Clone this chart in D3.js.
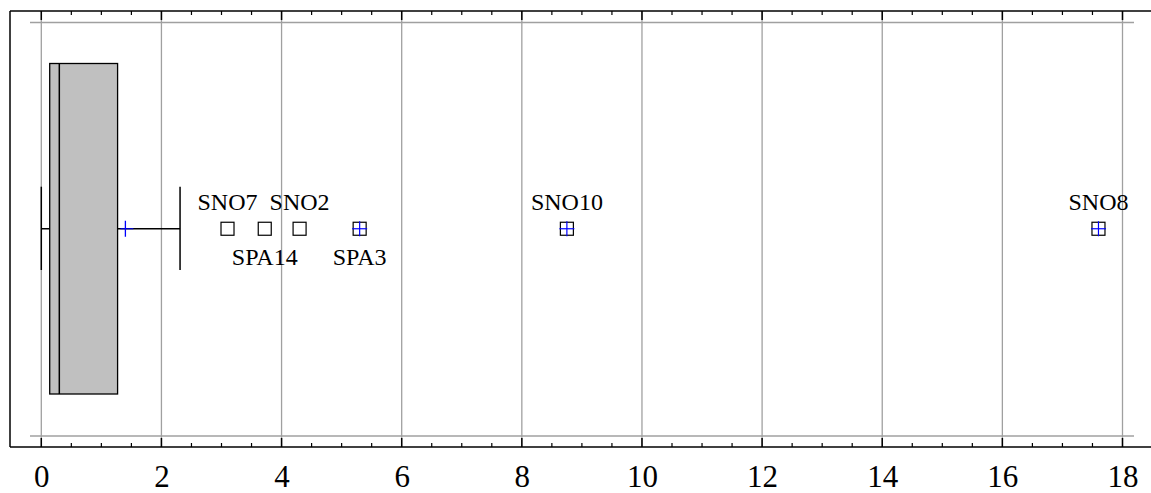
<!DOCTYPE html>
<html>
<head>
<meta charset="utf-8">
<script src="https://cdn.jsdelivr.net/npm/d3@7"></script>
<style>
  body { margin: 0; background: #fff; }
</style>
</head>
<body>
<svg id="chart" width="1151" height="493"></svg>
<script>
// box statistics
const boxStats = { min: 0, q1: 0.14, median: 0.30, q3: 1.27, max: 2.31, mean: 1.40 };

// outliers
const outlierNames = ["SNO7", "SPA14", "SNO2", "SPA3", "SNO10", "SNO8"];
const outlierValues = [3.10, 3.72, 4.30, 5.30, 8.75, 17.6];
const outlierExtreme = [false, false, false, true, true, true];
const labelSide = ["above", "below", "above", "below", "above", "above"];

const xTicks = [0, 2, 4, 6, 8, 10, 12, 14, 16, 18];

const serif = "Liberation Serif";
const svg = d3.select("#chart");
const frame = { left: 10, top: 11, right: 1151, bottom: 447 };

const xScale = d3.scaleLinear().domain([0, 18]).range([41.3, 1122.5]);
const yScale = d3.scaleLinear().domain([0, 1]).range([394, 63.5]);
const yMid = yScale(0.5);

// 网格线
svg.append("g")
    .selectAll("line")
    .data(xTicks)
    .enter().append("line")
    .attr("x1", d => xScale(d)).attr("x2", d => xScale(d))
    .attr("y1", frame.top).attr("y2", frame.bottom)
    .attr("stroke", "#a0a0a0").attr("stroke-width", 1.3);

// 上下的水平灰线
[22.5, 436].forEach(y => {
    svg.append("line")
        .attr("x1", 30).attr("x2", 1134)
        .attr("y1", y).attr("y2", y)
        .attr("stroke", "#a0a0a0").attr("stroke-width", 1.3);
});

// x轴（下）
const minorTicks = d3.range(0, 18.01, 0.5).filter(v => v % 2 !== 0);
const bottomAxis = svg.append("g")
    .attr("transform", `translate(0,${frame.bottom})`)
    .call(d3.axisBottom(xScale).tickValues(xTicks).tickSize(0).tickFormat(d3.format("d")));
bottomAxis.attr("font-family", serif).attr("font-size", 31);
bottomAxis.select(".domain").remove();
bottomAxis.selectAll("text")
    .attr("y", 40)
    .attr("dy", null)
    .attr("fill", "#000")
    .attr("font-family", serif)
    .attr("font-size", 31);

function drawTicks(y, dir) {
    const g = svg.append("g");
    g.selectAll(".major").data(xTicks).enter().append("line")
        .attr("x1", d => xScale(d)).attr("x2", d => xScale(d))
        .attr("y1", y).attr("y2", y + dir * 9)
        .attr("stroke", "#000").attr("stroke-width", 1.5);
    g.selectAll(".minor").data(minorTicks).enter().append("line")
        .attr("x1", d => xScale(d)).attr("x2", d => xScale(d))
        .attr("y1", y).attr("y2", y + dir * 4)
        .attr("stroke", "#000").attr("stroke-width", 1.2);
    g.append("line")
        .attr("x1", frame.left).attr("x2", frame.right)
        .attr("y1", y).attr("y2", y)
        .attr("stroke", "#000").attr("stroke-width", 1.5);
}
drawTicks(frame.bottom, -1);
drawTicks(frame.top, 1);

// 左边框
svg.append("line")
    .attr("x1", frame.left).attr("x2", frame.left)
    .attr("y1", frame.top).attr("y2", frame.bottom)
    .attr("stroke", "#000").attr("stroke-width", 1.5);

// 箱线图
const capTop = 186.7, capBottom = 270;
svg.append("line")
    .attr("x1", xScale(boxStats.min)).attr("x2", xScale(boxStats.max))
    .attr("y1", yMid).attr("y2", yMid)
    .attr("stroke", "#000").attr("stroke-width", 1.3);
[boxStats.min, boxStats.max].forEach(v => {
    svg.append("line")
        .attr("x1", xScale(v)).attr("x2", xScale(v))
        .attr("y1", capTop).attr("y2", capBottom)
        .attr("stroke", "#000").attr("stroke-width", 1.5);
});
svg.append("rect")
    .attr("x", xScale(boxStats.q1))
    .attr("y", yScale(1))
    .attr("width", xScale(boxStats.q3) - xScale(boxStats.q1))
    .attr("height", yScale(0) - yScale(1))
    .attr("fill", "#c0c0c0")
    .attr("stroke", "#000").attr("stroke-width", 1.3);
svg.append("line")
    .attr("x1", xScale(boxStats.median)).attr("x2", xScale(boxStats.median))
    .attr("y1", yScale(1)).attr("y2", yScale(0))
    .attr("stroke", "#000").attr("stroke-width", 1.5);

// 均值标记
svg.append("line")
    .attr("x1", xScale(boxStats.mean)).attr("x2", xScale(boxStats.mean))
    .attr("y1", yMid - 8).attr("y2", yMid + 8)
    .attr("stroke", "#0000ff").attr("stroke-width", 1.3);
svg.append("line")
    .attr("x1", xScale(boxStats.mean) - 5).attr("x2", xScale(boxStats.mean) + 8)
    .attr("y1", yMid).attr("y2", yMid)
    .attr("stroke", "#0000ff").attr("stroke-width", 1);

// 异常值
const outliers = outlierNames.map((name, i) => ({
    name, value: outlierValues[i], extreme: outlierExtreme[i], side: labelSide[i]
}));
const sq = 13;
const og = svg.selectAll(".outlier")
    .data(outliers)
    .enter().append("g")
    .attr("class", "outlier")
    .attr("transform", d => `translate(${xScale(d.value)},${yMid})`);
og.append("rect")
    .attr("x", -sq / 2).attr("y", -sq / 2)
    .attr("width", sq).attr("height", sq)
    .attr("fill", "#fff").attr("stroke", "#000").attr("stroke-width", 1.2);
og.filter(d => d.extreme).append("line")
    .attr("x1", -sq / 2 - 1).attr("x2", sq / 2 + 1).attr("y1", 0).attr("y2", 0)
    .attr("stroke", "#0000ff").attr("stroke-width", 1.2);
og.filter(d => d.extreme).append("line")
    .attr("x1", 0).attr("x2", 0).attr("y1", -sq / 2 - 1).attr("y2", sq / 2 + 1)
    .attr("stroke", "#0000ff").attr("stroke-width", 1.2);
og.append("text")
    .attr("text-anchor", "middle")
    .attr("y", d => d.side === "above" ? -19 : 36)
    .attr("font-family", serif)
    .attr("font-size", 24)
    .attr("fill", "#000")
    .text(d => d.name);
</script>
</body>
</html>
